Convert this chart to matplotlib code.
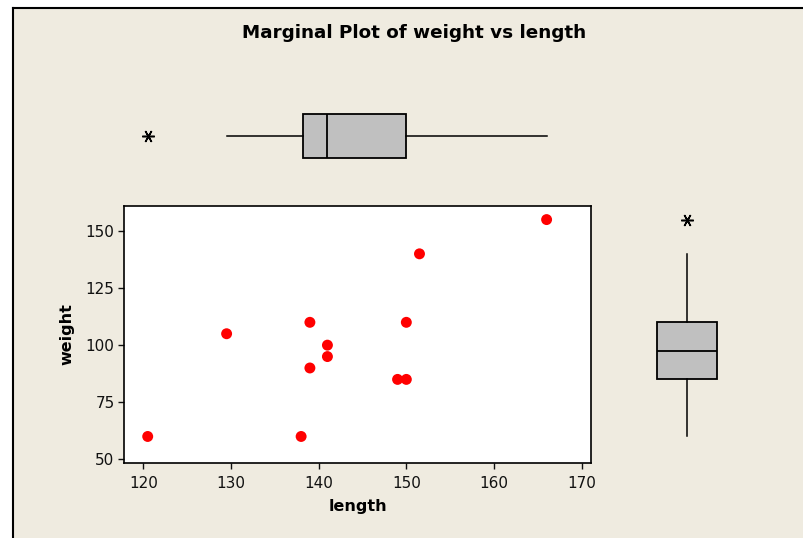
import numpy as np
import matplotlib
matplotlib.use("Agg")
import matplotlib.pyplot as plt
from matplotlib.lines import Line2D
from matplotlib.patches import Rectangle

plt.rcParams['font.family'] = ['DejaVu Sans']

length = [120.5, 129.5, 138, 139, 139, 141, 141, 149, 150, 150, 151.5, 166]
weight = [60, 105, 60, 110, 90, 100, 95, 85, 85, 110, 140, 155]
x_ticks = [120, 130, 140, 150, 160, 170]
y_ticks = [50, 75, 100, 125, 150]
title = "Marginal Plot of weight vs length"
xlabel = "length"
ylabel = "weight"

BG = "#EFEBE0"
W, H = 804, 538


def minitab_stats(data):
    d = np.sort(np.asarray(data, dtype=float))
    q1, med, q3 = np.percentile(d, [25, 50, 75], method="weibull")
    iqr = q3 - q1
    lo_f, hi_f = q1 - 1.5 * iqr, q3 + 1.5 * iqr
    inside = d[(d >= lo_f) & (d <= hi_f)]
    fliers = d[(d < lo_f) | (d > hi_f)]
    return dict(med=med, q1=q1, q3=q3, whislo=inside.min(), whishi=inside.max(),
                fliers=fliers)


def fr(x0, y0, x1, y1):
    return [x0 / W, 1 - y1 / H, (x1 - x0) / W, (y1 - y0) / H]


fig = plt.figure(figsize=(W / 100, H / 100), dpi=100, facecolor="white")
fig.patches.append(Rectangle((13 / W, 0), 1, 1 - 8 / H, transform=fig.transFigure,
                             facecolor=BG, edgecolor="none", zorder=-10))
fig.lines.append(Line2D([13 / W, 13 / W], [0, 1 - 8 / H], transform=fig.transFigure,
                        color="black", lw=1.5))
fig.lines.append(Line2D([13 / W, 1], [1 - 8 / H, 1 - 8 / H], transform=fig.transFigure,
                        color="black", lw=1.5))

ax = fig.add_axes(fr(124.3, 205.7, 590.7, 463.3))
ax.set_facecolor("white")
ax.scatter(length, weight, s=62, color="red", edgecolors="none", zorder=3)
ax.set_xlim(117.83, 171.03)
ax.set_ylim(48.25, 161.08)
ax.set_xticks(x_ticks)
ax.set_yticks(y_ticks)
ax.tick_params(direction="out", length=4, width=1, labelsize=11, colors="#111111", pad=3)
ax.tick_params(axis="x", pad=5)
for s in ax.spines.values():
    s.set_linewidth(1.2)
ax.set_xlabel(xlabel, fontsize=11.5, fontweight="bold", labelpad=6)
ax.set_ylabel(ylabel, fontsize=11.5, fontweight="bold", labelpad=8)

boxkw = dict(patch_artist=True, showcaps=False,
             boxprops=dict(facecolor="#C0C0C0", edgecolor="black", linewidth=1.3),
             medianprops=dict(color="black", linewidth=1.3),
             whiskerprops=dict(color="black", linewidth=1.1),
             flierprops=dict(marker=(6, 2, 90), markersize=9, markeredgecolor="black",
                             markeredgewidth=1.1, markerfacecolor="black"))

axt = fig.add_axes(fr(124.3, 98, 590.7, 174), sharex=ax)
axt.bxp([minitab_stats(length)], positions=[0.5], widths=[0.579], vert=False, **boxkw)
axt.set_ylim(0, 1)
axt.set_xlim(117.83, 171.03)
axt.axis("off")

axr = fig.add_axes(fr(640, 205.7, 734, 463.3), sharey=ax)
axr.bxp([minitab_stats(weight)], positions=[0.5], widths=[0.628], vert=True, **boxkw)
axr.set_xlim(0, 1)
axr.set_ylim(48.25, 161.08)
axr.axis("off")

fig.text(414 / W, 1 - 33 / H, title, ha="center", va="center", fontsize=13.2,
         fontweight="bold")

fig.savefig("out.png", dpi=100, facecolor=fig.get_facecolor())
